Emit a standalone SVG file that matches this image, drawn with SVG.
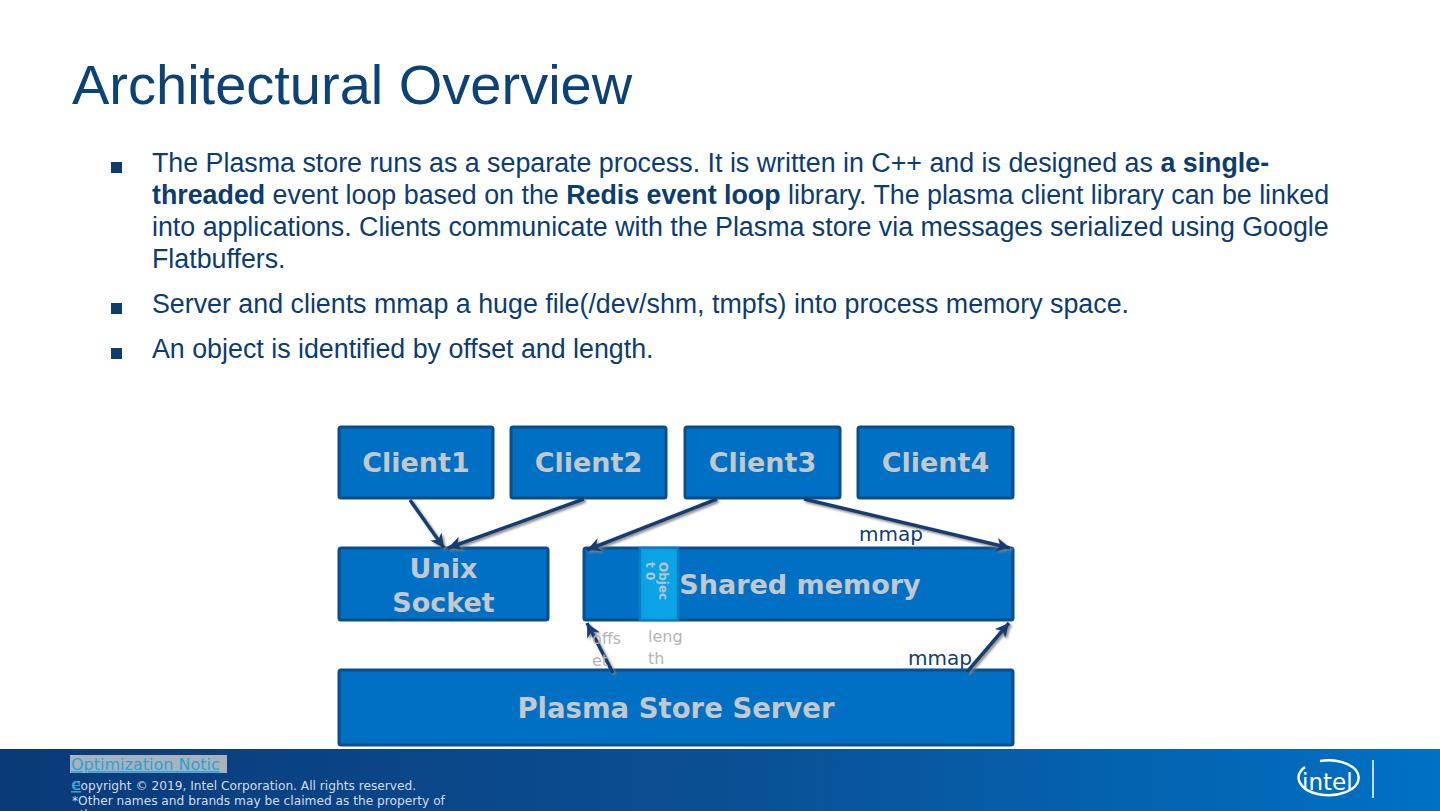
<svg xmlns="http://www.w3.org/2000/svg" width="1440" height="811" viewBox="0 0 1440 811">
<defs>
<style>
.title{font-family:"Liberation Sans",Arial,sans-serif;font-size:56px;fill:#0d4277}
.body{font-family:"Liberation Sans",Arial,sans-serif;font-size:26.8px;fill:#0c3c70}
.b{font-weight:bold}
.box{fill:#0070c5;stroke:#0b4e8c;stroke-width:3}
.lbl{font-family:"DejaVu Sans",Verdana,sans-serif;font-weight:bold;font-size:27px;fill:#c3c8ce;text-anchor:middle}
.mmap{font-family:"DejaVu Sans",Verdana,sans-serif;font-size:20px;fill:#123e70}
.gray{font-family:"DejaVu Sans",Verdana,sans-serif;font-size:16px;fill:#b4b4b4}
.obj{font-family:"DejaVu Sans",Verdana,sans-serif;font-weight:bold;font-size:12px;fill:#b8c4d0}
.arrow{fill:none;stroke:#133e72;stroke-width:3.5;marker-end:url(#ah);filter:url(#sh)}
.foot{font-family:"DejaVu Sans",Verdana,sans-serif;font-size:12.2px;fill:#d6dce8}
.link{font-family:"DejaVu Sans",Verdana,sans-serif;font-size:16px;fill:#2aa2dc;text-decoration:underline}
</style>
<marker id="ah" markerUnits="userSpaceOnUse" markerWidth="16" markerHeight="14" refX="14" refY="7" orient="auto">
<path d="M0,0 L14,7 L0,14 L4,7 z" fill="#133e72"/>
</marker>
<filter id="sh" x="-20%" y="-20%" width="140%" height="140%">
<feDropShadow dx="1.8" dy="1.8" stdDeviation="0.8" flood-color="#808080" flood-opacity="0.9"/>
</filter>
<linearGradient id="fg" x1="0" y1="0" x2="1" y2="0">
<stop offset="0" stop-color="#0a3a78"/>
<stop offset="0.5" stop-color="#0a4f94"/>
<stop offset="1" stop-color="#0071c5"/>
</linearGradient>
</defs>
<rect x="0" y="0" width="1440" height="811" fill="#ffffff"/>

<g id="header">
<text class="title" x="72" y="104">Architectural Overview</text>
<rect x="111" y="162" width="11" height="11" fill="#0c3c70"/>
<text class="body" x="152" y="172">The Plasma store runs as a separate process. It is written in C++ and is designed as <tspan class="b">a single-</tspan></text>
<text class="body" x="152" y="204"><tspan class="b">threaded</tspan> event loop based on the <tspan class="b">Redis event loop</tspan> library. The plasma client library can be linked</text>
<text class="body" x="152" y="236">into applications. Clients communicate with the Plasma store via messages serialized using Google</text>
<text class="body" x="152" y="268">Flatbuffers.</text>
<rect x="111" y="303" width="11" height="11" fill="#0c3c70"/>
<text class="body" x="152" y="313">Server and clients mmap a huge file(/dev/shm, tmpfs) into process memory space.</text>
<rect x="111" y="348" width="11" height="11" fill="#0c3c70"/>
<text class="body" x="152" y="358">An object is identified by offset and length.</text>
</g>

<g id="client1"><rect class="box" x="339" y="427" width="154" height="71" rx="2"/><text class="lbl" x="416" y="472">Client1</text></g>
<g id="client2"><rect class="box" x="511" y="427" width="155" height="71" rx="2"/><text class="lbl" x="588.5" y="472">Client2</text></g>
<g id="client3"><rect class="box" x="685" y="427" width="155" height="71" rx="2"/><text class="lbl" x="762.5" y="472">Client3</text></g>
<g id="client4"><rect class="box" x="858" y="427" width="155" height="71" rx="2"/><text class="lbl" x="935.5" y="472">Client4</text></g>
<g id="unix-socket"><rect class="box" x="339" y="548" width="209" height="72" rx="2"/><text class="lbl" x="443.5" y="578">Unix</text><text class="lbl" x="443.5" y="612">Socket</text></g>
<g id="shared-memory"><rect class="box" x="584" y="548" width="429" height="72" rx="2"/><text class="lbl" x="800" y="594">Shared memory</text></g>
<g id="object0"><rect x="640" y="548" width="38" height="72" fill="#0aa3e6" stroke="#0a80c2" stroke-width="2.5"/>
<text class="obj" transform="translate(659,562) rotate(90)"><tspan x="0" y="0">Objec</tspan><tspan x="0" y="13">t 0</tspan></text></g>
<g id="plasma-store-server"><rect class="box" x="339" y="670" width="674" height="75" rx="2"/><text class="lbl" x="676" y="718" style="font-size:27.5px">Plasma Store Server</text></g>

<g id="connectors">
<path class="arrow" d="M410,500 L444,548"/>
<path class="arrow" d="M584,499 L448,548"/>
<path class="arrow" d="M717,499 L587,550"/>
<path class="arrow" d="M804,499 L1010,548"/>
<path class="arrow" d="M446,621 L446,671"/>
<path class="arrow" d="M613,673 L587,623"/>
<path class="arrow" d="M967,672 L1009,623"/>
<text class="mmap" x="859" y="541">mmap</text>
<text class="mmap" x="908" y="665">mmap</text>
<text class="gray" x="592" y="644">offs</text>
<text class="gray" x="592" y="666">et</text>
<text class="gray" x="648" y="642">leng</text>
<text class="gray" x="648" y="664">th</text>
</g>

<g id="footer">
<rect x="0" y="749" width="1440" height="62" fill="url(#fg)"/>
<rect x="70" y="755" width="157" height="18" fill="#a9b1ba"/>
<text class="link" x="71" y="770">Optimization Notic</text>
<text class="foot" x="72" y="790">Copyright ©  2019, Intel Corporation. All rights reserved.</text>
<text class="link" x="71" y="790">e</text>
<text class="foot" x="72" y="805">*Other names and brands may be claimed as the property of</text>
<text class="foot" x="72" y="818.5">others.</text>
<path d="M1305,767 A30,17.5 0 1 0 1320,761" fill="none" stroke="#ffffff" stroke-width="2.5"/>
<text x="1302" y="790" font-family="DejaVu Sans,Verdana,sans-serif" font-size="23" fill="#ffffff">intel</text>
<line x1="1373" y1="760" x2="1373" y2="798" stroke="#ffffff" stroke-width="1.5"/>
</g>
</svg>
